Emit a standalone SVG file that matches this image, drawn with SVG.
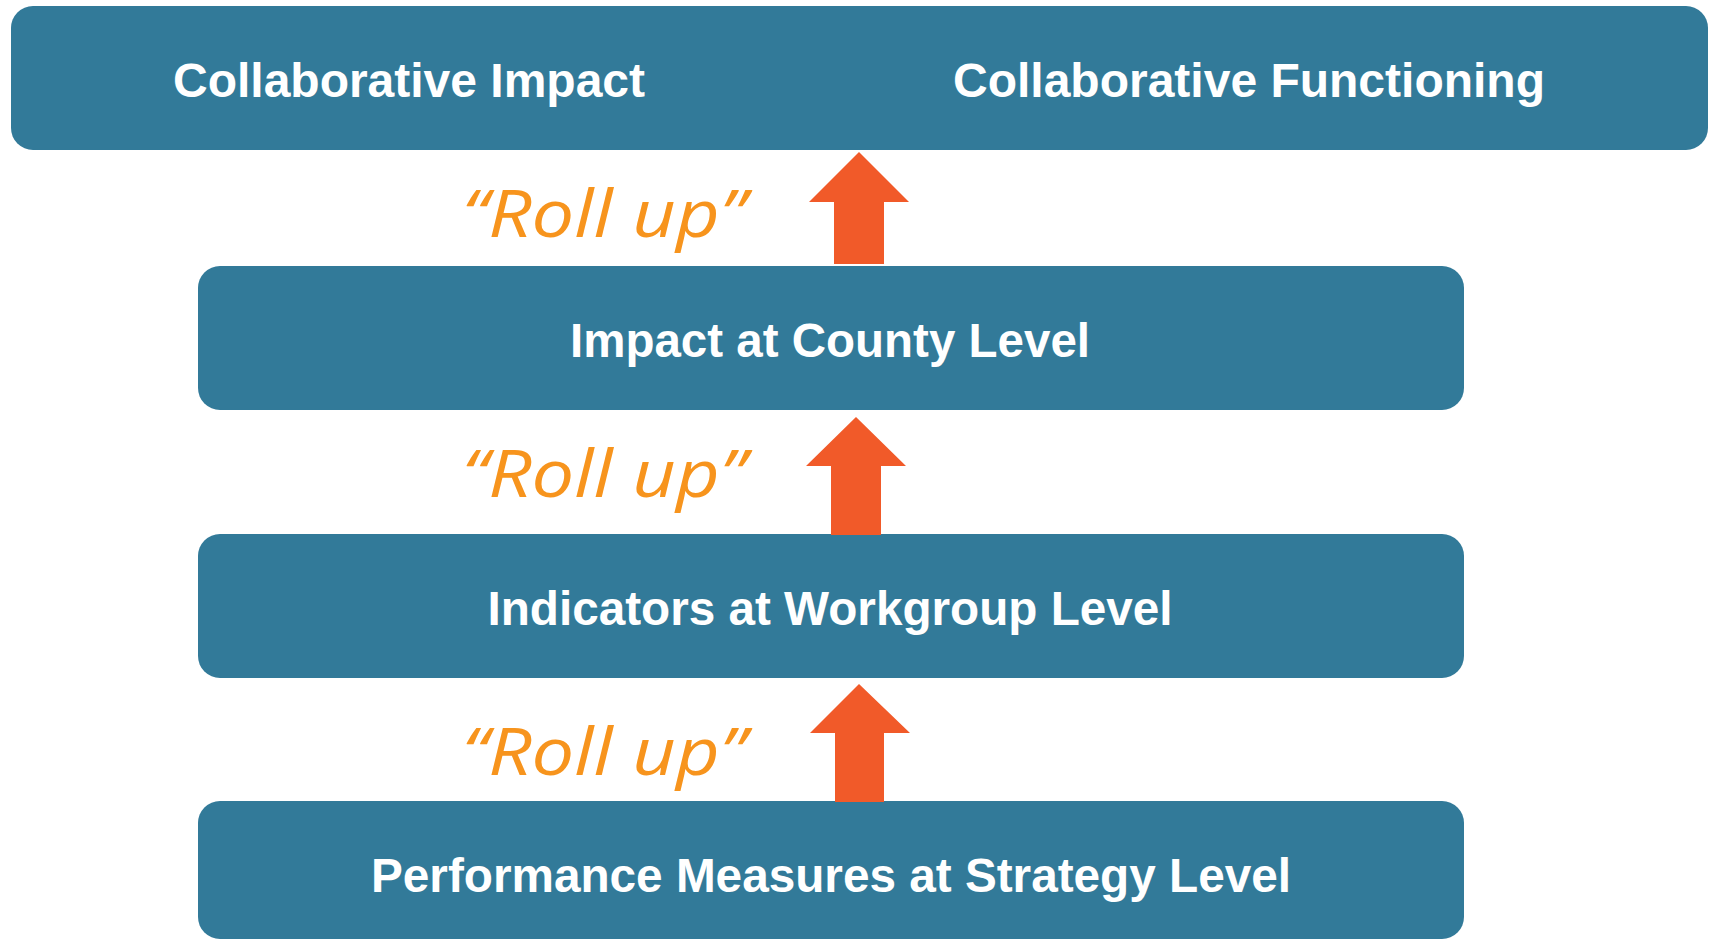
<svg xmlns="http://www.w3.org/2000/svg" width="1714" height="940" viewBox="0 0 1714 940">
<style>
.box{fill:#327A99;}
.lbl{font-family:"Liberation Sans",Arial,sans-serif;font-weight:bold;font-size:48px;fill:#FFFFFF;text-anchor:middle;}
.roll{font-family:"Open Sans","Liberation Sans",sans-serif;font-style:italic;font-size:66px;fill:#F7941D;}
.arrow{fill:#F15A29;}
</style>
<rect width="1714" height="940" fill="#FFFFFF"/>
<g id="top">
<rect class="box" x="11" y="6" width="1697" height="144" rx="22"/>
<text class="lbl" x="409" y="97" textLength="472" lengthAdjust="spacingAndGlyphs">Collaborative Impact</text>
<text class="lbl" x="1249" y="97" textLength="592" lengthAdjust="spacingAndGlyphs">Collaborative Functioning</text>
</g>
<g id="county">
<rect class="box" x="198" y="266" width="1266" height="144" rx="22"/>
<text class="lbl" x="830" y="357" textLength="520" lengthAdjust="spacingAndGlyphs">Impact at County Level</text>
</g>
<g id="workgroup">
<rect class="box" x="198" y="534" width="1266" height="144" rx="22"/>
<text class="lbl" x="830" y="625" textLength="685" lengthAdjust="spacingAndGlyphs">Indicators at Workgroup Level</text>
</g>
<g id="strategy">
<rect class="box" x="198" y="801" width="1266" height="138" rx="22"/>
<text class="lbl" x="831" y="892" textLength="920" lengthAdjust="spacingAndGlyphs">Performance Measures at Strategy Level</text>
</g>
<g id="connectors">
<polygon class="arrow" points="859,152 909,202 884,202 884,264 834,264 834,202 809,202"/>
<polygon class="arrow" points="856,417 906,466 881,466 881,535 831,535 831,466 806,466"/>
<polygon class="arrow" points="859,684 910,733 884,733 884,802 835,802 835,733 810,733"/>
<text class="roll" x="462" y="237" textLength="284" lengthAdjust="spacingAndGlyphs">“Roll up”</text>
<text class="roll" x="462" y="497" textLength="284" lengthAdjust="spacingAndGlyphs">“Roll up”</text>
<text class="roll" x="462" y="775" textLength="284" lengthAdjust="spacingAndGlyphs">“Roll up”</text>
</g>
</svg>
